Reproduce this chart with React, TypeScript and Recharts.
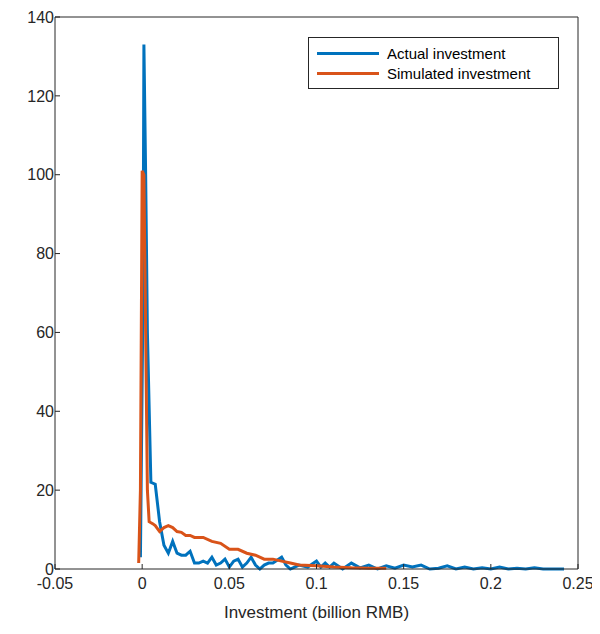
import React from "react";
import { LineChart, Line, XAxis, YAxis } from "recharts";

const actualX = [-0.001, 0.0005, 0.001, 0.002, 0.003, 0.005, 0.0075, 0.01, 0.0125, 0.015, 0.0175, 0.02, 0.0225, 0.025, 0.0275, 0.03, 0.0325, 0.035, 0.0375, 0.04, 0.0425, 0.045, 0.0475, 0.05, 0.0525, 0.055, 0.0575, 0.06, 0.0625, 0.065, 0.0675, 0.07, 0.0725, 0.075, 0.08, 0.0825, 0.085, 0.09, 0.095, 0.1, 0.1025, 0.105, 0.1075, 0.11, 0.115, 0.12, 0.125, 0.13, 0.135, 0.14, 0.145, 0.15, 0.155, 0.16, 0.165, 0.17, 0.175, 0.18, 0.185, 0.19, 0.195, 0.2, 0.205, 0.21, 0.215, 0.22, 0.225, 0.23, 0.235, 0.242];
const actualY = [3, 70, 133, 100, 60, 22, 21.5, 12, 6, 4, 7, 4, 3.5, 3.5, 4.5, 1.5, 1.5, 2, 1.5, 3, 1, 1.5, 2.5, 0.5, 2, 2.5, 0.5, 1.5, 3, 1, 0, 1, 1.5, 1.5, 3, 1, 0, 1, 0.5, 2, 0.5, 1.5, 0.5, 1.5, 0, 1.5, 0.3, 1, 0, 0.8, 0.2, 1, 0.5, 1, 0, 0.2, 0.8, 0, 0.5, 0, 0.3, 0, 0.5, 0, 0.2, 0, 0.3, 0, 0, 0];
const simX = [-0.002, -0.001, 0, 0.001, 0.002, 0.003, 0.004, 0.006, 0.0075, 0.01, 0.0125, 0.015, 0.0175, 0.02, 0.0225, 0.025, 0.0275, 0.03, 0.035, 0.04, 0.045, 0.05, 0.055, 0.06, 0.065, 0.07, 0.075, 0.08, 0.085, 0.09, 0.1, 0.11, 0.12, 0.13, 0.14];
const simY = [1.5, 20, 101, 100, 60, 20, 12, 11.5, 11, 9.5, 10.5, 11, 10.5, 9.5, 9.3, 8.5, 8.5, 8, 8, 7, 6.5, 5, 5, 4, 3.5, 2.5, 2.5, 2, 1.5, 1, 0.8, 0.5, 0.3, 0.2, 0.2];
const xTicks = [-0.05, 0, 0.05, 0.1, 0.15, 0.2, 0.25];
const yTicks = [0, 20, 40, 60, 80, 100, 120, 140];

const actual = actualX.map((x, i) => ({ x, y: actualY[i] }));
const sim = simX.map((x, i) => ({ x, y: simY[i] }));
const BLUE = "#0072BD";
const RED = "#D95319";
const font = "'Liberation Sans', Arial, sans-serif";
const tickStyle = { fill: "#262626", fontSize: 16, fontFamily: font };

const LegendBox = () => (
  <div style={{ position: "absolute", left: 300, top: 29, width: 251, height: 52, border: "1px solid #262626", background: "#fff", fontFamily: font, fontSize: 15, color: "#000", boxSizing: "border-box", padding: "5px 0 0 8px" }}>
    {[["Actual investment", BLUE], ["Simulated investment", RED]].map(([t, c]) => (
      <div key={t} style={{ display: "flex", alignItems: "center", height: 20 }}>
        <div style={{ width: 62, height: 3, background: c, marginRight: 8 }} />
        <span>{t}</span>
      </div>
    ))}
  </div>
);

export default function App() {
  return (
    <div style={{ position: "relative", width: 592, height: 618 }}>
      <LineChart width={592} height={618} margin={{ top: 8, right: 21, bottom: 0, left: 7 }}>
        <XAxis xAxisId="b" type="number" dataKey="x" domain={[-0.05, 0.25]} ticks={xTicks} allowDataOverflow
          tickFormatter={(v) => String(Number(v.toFixed(2)))} tick={tickStyle} tickSize={-5} tickMargin={14}
          stroke="#262626" height={57}
          label={{ value: "Investment (billion RMB)", position: "insideBottom", offset: 8, style: { fill: "#262626", fontSize: 17, fontFamily: font } }} />
        <XAxis xAxisId="t" orientation="top" type="number" dataKey="x" domain={[-0.05, 0.25]} ticks={xTicks} tick={false} tickSize={-5} stroke="#262626" height={1} />
        <YAxis yAxisId="l" type="number" domain={[0, 140]} ticks={yTicks} tick={tickStyle} tickSize={-5} tickMargin={6} stroke="#262626" width={40} />
        <YAxis yAxisId="r" orientation="right" type="number" domain={[0, 140]} ticks={yTicks} tick={false} tickSize={-5} stroke="#262626" width={1} />
        <Line xAxisId="b" yAxisId="l" data={actual} dataKey="y" stroke={BLUE} strokeWidth={3} dot={false} isAnimationActive={false} />
        <Line xAxisId="b" yAxisId="l" data={sim} dataKey="y" stroke={RED} strokeWidth={3} dot={false} isAnimationActive={false} />
      </LineChart>
      <LegendBox />
    </div>
  );
}
